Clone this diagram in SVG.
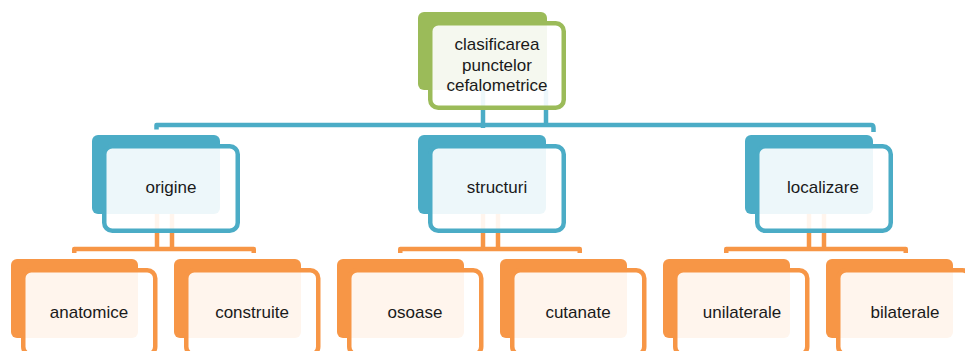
<svg xmlns="http://www.w3.org/2000/svg" width="965" height="351" viewBox="0 0 965 351">
  <style>
    .back { stroke: none; }
    .front { fill: #ffffff; fill-opacity: 0.9; stroke-width: 4.5; }
    .green .back { fill: #9bbb59; }
    .green .front { stroke: #9bbb59; }
    .blue .back { fill: #4bacc6; }
    .blue .front { stroke: #4bacc6; }
    .orange .back { fill: #f79646; }
    .orange .front { stroke: #f79646; }
    .link { fill: none; stroke-width: 4.5; stroke-linejoin: round; }
    .link.blue { stroke: #4bacc6; }
    .link.orange { stroke: #f79646; }
    text { font-family: "Liberation Sans", Arial, sans-serif; font-size: 17px; fill: #1a1a1a; text-anchor: middle; }
  </style>

  <!-- connectors (drawn first so the node panels veil them) -->
  <g id="connectors">
    <path class="link blue" d="M483,90 V128"/>
    <path class="link blue" d="M546,90 V125"/>
    <path class="link blue" d="M156.5,129.5 V125 H871 Q873.5,125 873.5,128 V132"/>

    <path class="link orange" d="M157,214 V249"/>
    <path class="link orange" d="M172,214 V249"/>
    <path class="link orange" d="M74.25,253 V249 H253.75 V253"/>

    <path class="link orange" d="M483,214 V249"/>
    <path class="link orange" d="M498,214 V249"/>
    <path class="link orange" d="M400.25,253 V249 H579.75 V253"/>

    <path class="link orange" d="M809,214 V249"/>
    <path class="link orange" d="M824,214 V249"/>
    <path class="link orange" d="M726.25,253 V249 H905.75 V253"/>
  </g>

  <!-- root -->
  <g id="root" class="green">
    <rect class="back" x="418" y="12" width="129" height="78" rx="6"/>
    <rect class="front" x="430.25" y="23.25" width="133.5" height="84.5" rx="8"/>
    <text x="497" y="50">clasificarea</text>
    <text x="497" y="70.5">punctelor</text>
    <text x="497" y="91">cefalometrice</text>
  </g>

  <!-- level 1 -->
  <g id="origine" class="blue">
    <rect class="back" x="92" y="135" width="128" height="79" rx="6"/>
    <rect class="front" x="104.25" y="146.25" width="133.5" height="84.5" rx="8"/>
    <text x="171" y="193">origine</text>
  </g>
  <g id="structuri" class="blue">
    <rect class="back" x="418" y="135" width="128" height="79" rx="6"/>
    <rect class="front" x="430.25" y="146.25" width="133.5" height="84.5" rx="8"/>
    <text x="497" y="193">structuri</text>
  </g>
  <g id="localizare" class="blue">
    <rect class="back" x="745" y="135" width="128" height="79" rx="6"/>
    <rect class="front" x="757.25" y="146.25" width="133.5" height="84.5" rx="8"/>
    <text x="823" y="193">localizare</text>
  </g>

  <!-- level 2 -->
  <g id="anatomice" class="orange">
    <rect class="back" x="11" y="259" width="127" height="79" rx="6"/>
    <rect class="front" x="23.25" y="270.25" width="132" height="84.5" rx="8"/>
    <text x="89" y="318">anatomice</text>
  </g>
  <g id="construite" class="orange">
    <rect class="back" x="174" y="259" width="127" height="79" rx="6"/>
    <rect class="front" x="186.25" y="270.25" width="132" height="84.5" rx="8"/>
    <text x="252" y="318">construite</text>
  </g>
  <g id="osoase" class="orange">
    <rect class="back" x="337" y="259" width="127" height="79" rx="6"/>
    <rect class="front" x="349.25" y="270.25" width="132" height="84.5" rx="8"/>
    <text x="415" y="318">osoase</text>
  </g>
  <g id="cutanate" class="orange">
    <rect class="back" x="500" y="259" width="127" height="79" rx="6"/>
    <rect class="front" x="512.25" y="270.25" width="132" height="84.5" rx="8"/>
    <text x="578" y="318">cutanate</text>
  </g>
  <g id="unilaterale" class="orange">
    <rect class="back" x="663" y="259" width="127" height="79" rx="6"/>
    <rect class="front" x="675.25" y="270.25" width="132" height="84.5" rx="8"/>
    <text x="742" y="318">unilaterale</text>
  </g>
  <g id="bilaterale" class="orange">
    <rect class="back" x="826" y="259" width="127" height="79" rx="6"/>
    <rect class="front" x="838.25" y="270.25" width="132" height="84.5" rx="8"/>
    <text x="905" y="318">bilaterale</text>
  </g>
</svg>
